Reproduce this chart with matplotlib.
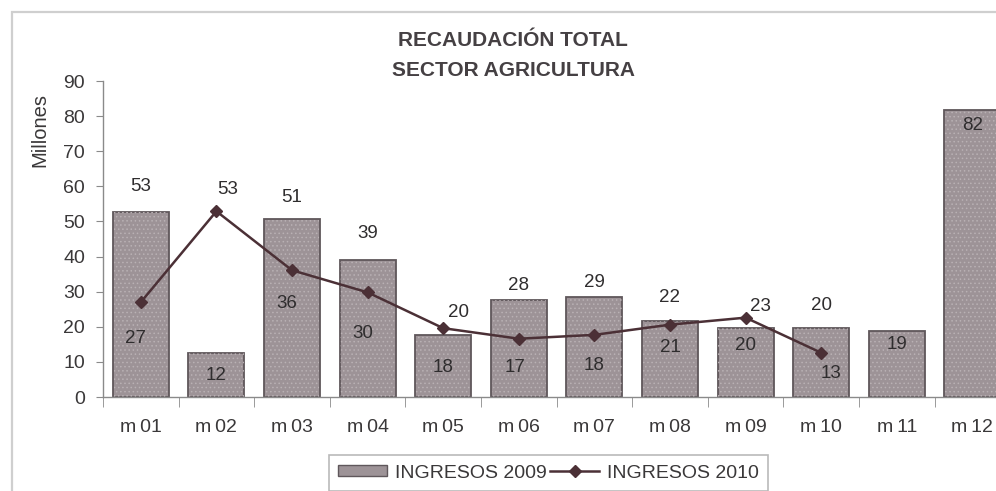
import matplotlib
matplotlib.use("Agg")
import matplotlib.pyplot as plt
import numpy as np
from matplotlib.patches import Rectangle
from matplotlib.lines import Line2D
from matplotlib.patches import Patch

plt.rcParams['font.family'] = ['Liberation Sans', 'DejaVu Sans']

# ---- data ----
months = ["m\u200901", "m\u200902", "m\u200903", "m\u200904", "m\u200905", "m\u200906",
          "m\u200907", "m\u200908", "m\u200909", "m\u200910", "m\u200911", "m\u200912"]
ingresos_2009 = [52.8, 12.4, 50.6, 38.9, 17.6, 27.6, 28.6, 21.7, 19.7, 19.7, 18.7, 81.6]
ingresos_2010 = [27.0, 52.9, 36.1, 29.8, 19.6, 16.6, 17.7, 20.6, 22.6, 12.6]
y_ticks = [0, 10, 20, 30, 40, 50, 60, 70, 80, 90]

# label offsets (data units) relative to the value: style only
off_2009 = [7.2, -6.4, 6.2, 7.6, -9.2, 4.2, 4.0, 6.6, -4.9, 6.4, -3.7, -4.4]
off_2010 = [-10.2, 6.2, -9.6, -11.6, 4.5, -8.1, -8.6, -6.4, 3.3, -5.8]
dx_2010 = [-0.07, 0.15, -0.07, -0.07, 0.2, -0.05, 0.0, 0.0, 0.2, 0.13]

W, H = 996, 491
fig = plt.figure(figsize=(W / 100, H / 100), dpi=100)
fig.patch.set_facecolor("white")

# outer chart frame (extends past the cropped edges)
fig.patches.append(Rectangle((12 / W, -0.1), 1.2, 1 - 12 / H + 0.1, transform=fig.transFigure,
                             fill=False, edgecolor="#cfcfcf", linewidth=1.6))

ax = fig.add_axes([103 / W, 1 - 397 / H, 12 * 75.6 / W, (397 - 81) / H])
ax.set_xlim(-0.5, 11.5)
ax.set_ylim(0, 90)
ax.set_facecolor("none")

x = np.arange(len(months))
bar_face = "#9d9397"
bar_edge = "#5f575b"
plt.rcParams['hatch.linewidth'] = 0.6
ax.bar(x, ingresos_2009, width=0.74, color=bar_face, edgecolor=bar_edge, linewidth=1.3, zorder=2)
ax.bar(x, ingresos_2009, width=0.72, facecolor="none", edgecolor="#b9b1b4", linewidth=0,
       hatch="....", zorder=2.1)

x10 = np.arange(len(ingresos_2010))
line_col = "#4b3036"
ax.plot(x10, ingresos_2010, color=line_col, linewidth=1.8, marker="D", markersize=6,
        markerfacecolor=line_col, markeredgecolor=line_col, zorder=4)

txt_col = "#2f2d2e"
for i, v in enumerate(ingresos_2009):
    ax.text(x[i], v + off_2009[i], f"{v:.0f}", ha="center", va="center", fontsize=13.5,
            color=txt_col, zorder=5)
for i, v in enumerate(ingresos_2010):
    ax.text(x10[i] + dx_2010[i], v + off_2010[i], f"{v:.0f}", ha="center", va="center",
            fontsize=13.5, color=txt_col, zorder=5)

# axes styling
for s in ["top", "right"]:
    ax.spines[s].set_visible(False)
ax.spines["left"].set_color("#8a8a8a")
ax.spines["bottom"].set_color("#8a8a8a")
ax.spines["left"].set_linewidth(1.0)
ax.spines["bottom"].set_linewidth(1.0)

ax.set_yticks(y_ticks)
ax.set_yticklabels([str(t) for t in y_ticks])
ax.tick_params(axis="y", direction="out", length=5, color="#8a8a8a", labelsize=14,
               labelcolor="#3a3839", pad=8)
ax.set_xticks(x)
ax.set_xticklabels(months)
ax.tick_params(axis="x", which="major", length=0, labelsize=14, labelcolor="#3a3839", pad=16)
ax.set_xticks(np.arange(-0.5, 12, 1), minor=True)
ax.tick_params(axis="x", which="minor", direction="out", length=7, color="#8a8a8a")

fig.text(40 / W, 1 - 130 / H, "Millones", rotation=90, ha="center", va="center",
         fontsize=14.5, color="#3a3839")

fig.text(513 / W, 1 - 41 / H, "RECAUDACIÓN TOTAL", ha="center", va="center",
         fontsize=15, fontweight="bold", color="#454043")
fig.text(513 / W, 1 - 70 / H, "SECTOR AGRICULTURA", ha="center", va="center",
         fontsize=15, fontweight="bold", color="#454043")

handles = [Patch(facecolor=bar_face, edgecolor=bar_edge, linewidth=1.0),
           Line2D([0], [0], color=line_col, linewidth=1.8, marker="D", markersize=6)]
leg = fig.legend(handles, ["INGRESOS 2009", "INGRESOS 2010"], loc="upper center",
                 bbox_to_anchor=(548.5 / W, 1 - 455 / H), ncol=2, fontsize=14,
                 frameon=True, fancybox=False, edgecolor="#a8a8a8", handlelength=2.5,
                 handleheight=0.5, handletextpad=0.4, columnspacing=0.2, borderpad=0.5,
                 borderaxespad=0)
leg.get_frame().set_linewidth(1.2)
for t in leg.get_texts():
    t.set_color("#3a3839")

fig.savefig("out.png", dpi=100)
